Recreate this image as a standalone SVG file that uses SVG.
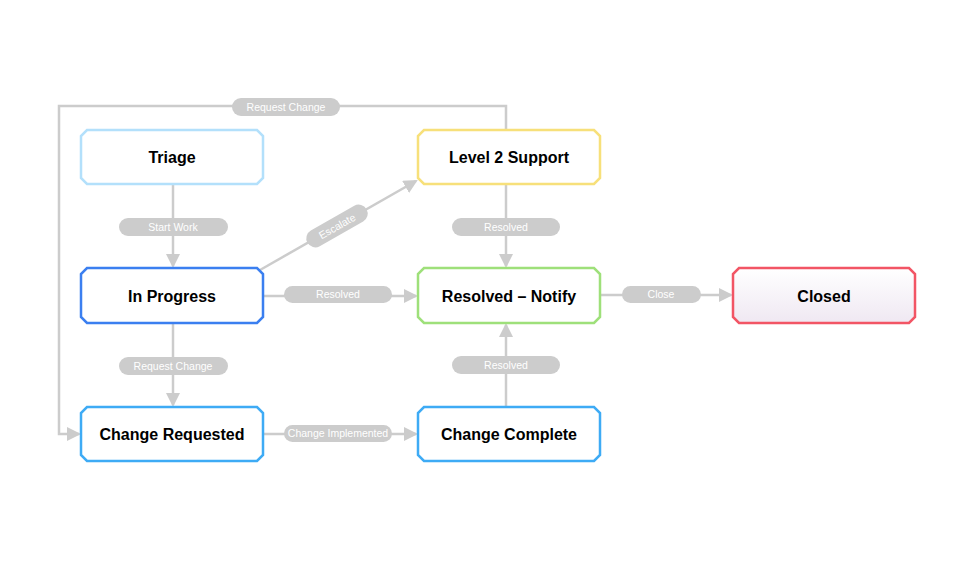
<svg xmlns="http://www.w3.org/2000/svg" width="960" height="571" viewBox="0 0 960 571">
<style>
.n{fill:#fff;stroke-width:2.5}
.t{font-family:"Liberation Sans",Arial,sans-serif;font-weight:bold;font-size:16px;fill:#000;text-anchor:middle}
.c{stroke:#cccccc;stroke-width:2.5;fill:none}
.p{fill:#cccccc}
.l{font-family:"Liberation Sans",Arial,sans-serif;font-size:10.5px;fill:#fff;text-anchor:middle}
</style>
<defs>
<marker id="a" markerWidth="14" markerHeight="14" refX="12" refY="7" orient="auto" markerUnits="userSpaceOnUse"><path d="M0,0 L14,7 L0,14 Z" fill="#cccccc"/></marker>
<linearGradient id="g" x1="0" y1="0" x2="0" y2="1"><stop offset="0" stop-color="#fff"/><stop offset="1" stop-color="#efe8f2"/></linearGradient>
</defs>
<rect width="960" height="571" fill="#fff"/>
<g id="connectors">
<path class="c" d="M173,185 V266" marker-end="url(#a)"/>
<rect class="p" x="119" y="218" width="109" height="18" rx="9"/><text class="l" x="173" y="231">Start Work</text>
<path class="c" d="M173,323 V405" marker-end="url(#a)"/>
<rect class="p" x="119" y="357" width="109" height="18" rx="9"/><text class="l" x="173" y="370">Request Change</text>
<path class="c" d="M263,296 H416" marker-end="url(#a)"/>
<rect class="p" x="284" y="286" width="108" height="17" rx="8.5"/><text class="l" x="338" y="298">Resolved</text>
<path class="c" d="M260,270 L416,181" marker-end="url(#a)"/>
<g transform="translate(337,226) rotate(-29.7)"><rect class="p" x="-34" y="-9" width="68" height="18" rx="9"/><text class="l" x="0" y="4">Escalate</text></g>
<path class="c" d="M506,185 V266" marker-end="url(#a)"/>
<rect class="p" x="452" y="218" width="108" height="18" rx="9"/><text class="l" x="506" y="231">Resolved</text>
<path class="c" d="M506,407 V325" marker-end="url(#a)"/>
<rect class="p" x="452" y="356" width="108" height="18" rx="9"/><text class="l" x="506" y="369">Resolved</text>
<path class="c" d="M263,434 H416" marker-end="url(#a)"/>
<rect class="p" x="284" y="425" width="108" height="17" rx="8.5"/><text class="l" x="338" y="437">Change Implemented</text>
<path class="c" d="M600,295 H731" marker-end="url(#a)"/>
<rect class="p" x="622" y="286" width="79" height="17" rx="8.5"/><text class="l" x="661" y="298">Close</text>
<path class="c" d="M506,130 V106 H59 V434 H79" marker-end="url(#a)"/>
<rect class="p" x="232" y="98" width="108" height="18" rx="9"/><text class="l" x="286" y="111">Request Change</text>
</g>
<g id="triage"><path class="n" stroke="#b3e0fb" d="M87,130 H257 L263,136 V178 L257,184 H87 L81,178 V136 Z"/><text class="t" x="172" y="163">Triage</text></g>
<g id="inprogress"><path class="n" stroke="#3b7ff0" d="M87,268 H257 L263,274 V317 L257,323 H87 L81,317 V274 Z"/><text class="t" x="172" y="302">In Progress</text></g>
<g id="changerequested"><path class="n" stroke="#3eabf5" d="M87,407 H257 L263,413 V455 L257,461 H87 L81,455 V413 Z"/><text class="t" x="172" y="440">Change Requested</text></g>
<g id="level2"><path class="n" stroke="#f7e07a" d="M424,130 H594 L600,136 V178 L594,184 H424 L418,178 V136 Z"/><text class="t" x="509" y="163">Level 2 Support</text></g>
<g id="resolved"><path class="n" stroke="#9ee07a" d="M424,268 H594 L600,274 V317 L594,323 H424 L418,317 V274 Z"/><text class="t" x="509" y="302">Resolved – Notify</text></g>
<g id="changecomplete"><path class="n" stroke="#3eabf5" d="M424,407 H594 L600,413 V455 L594,461 H424 L418,455 V413 Z"/><text class="t" x="509" y="440">Change Complete</text></g>
<g id="closed"><path class="n" fill="url(#g)" style="fill:url(#g)" stroke="#f25565" d="M739,268 H909 L915,274 V317 L909,323 H739 L733,317 V274 Z"/><text class="t" x="824" y="302">Closed</text></g>
</svg>
